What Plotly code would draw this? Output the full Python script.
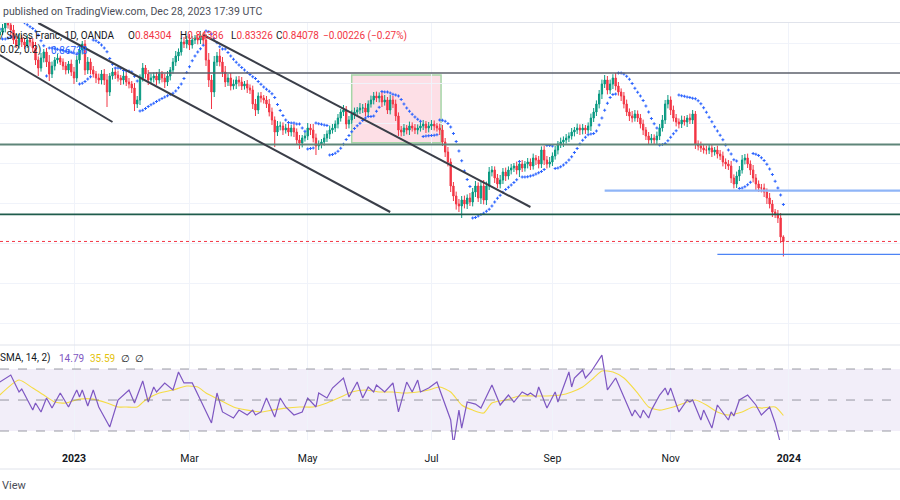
import numpy as np
import pandas as pd
import plotly.graph_objects as go
from plotly.subplots import make_subplots

# ---------------- data (USD/CHF daily) ----------------
FIRST_DATE = "2022-11-24"
LAST_DATE = "2023-12-28"
FIRST_OPEN = 0.9440

CLOSE = [
    0.9455, 0.9475,                                  # Nov 24-25 2022
    0.9505, 0.9490, 0.9465, 0.9415, 0.9390,          # Nov 28
    0.9425, 0.9405, 0.9390, 0.9415, 0.9405,          # Dec 5
    0.9375, 0.9315, 0.9275, 0.9325, 0.9355,          # Dec 12
    0.9305, 0.9245, 0.9285, 0.9315, 0.9325,          # Dec 19
    0.9305, 0.9285, 0.9265, 0.9295, 0.9255,          # Dec 26
    0.9225, 0.9315, 0.9365, 0.9395, 0.9265,          # Jan 2 2023
    0.9305, 0.9265, 0.9245, 0.9225, 0.9215,          # Jan 9
    0.9245, 0.9215, 0.9155, 0.9235, 0.9255,          # Jan 16
    0.9240, 0.9225, 0.9215, 0.9235, 0.9205,          # Jan 23
    0.9195, 0.9175, 0.9095, 0.9115, 0.9225,          # Jan 30
    0.9275, 0.9245, 0.9215, 0.9225, 0.9235,          # Feb 6
    0.9215, 0.9245, 0.9225, 0.9205, 0.9235,          # Feb 13
    0.9265, 0.9305, 0.9335, 0.9355, 0.9405,          # Feb 20
    0.9395, 0.9415, 0.9390, 0.9415, 0.9425,          # Feb 27
    0.9415, 0.9435, 0.9415, 0.9315, 0.9215,          # Mar 6
    0.9155, 0.9305, 0.9335, 0.9305, 0.9255,          # Mar 13
    0.9205, 0.9225, 0.9185, 0.9195, 0.9215,          # Mar 20
    0.9205, 0.9185, 0.9195, 0.9175, 0.9165,          # Mar 27
    0.9095, 0.9065, 0.9135, 0.9125, 0.9115,          # Apr 3
    0.9095, 0.9055, 0.9015, 0.8955, 0.8985,          # Apr 10
    0.8985, 0.8965, 0.8975, 0.8955, 0.8975,          # Apr 17
    0.8955, 0.8915, 0.8900, 0.8925, 0.8935,          # Apr 24
    0.8975, 0.8965, 0.8925, 0.8885, 0.8895,          # May 1
    0.8905, 0.8925, 0.8945, 0.8965, 0.8975,          # May 8
    0.8995, 0.9025, 0.9055, 0.9065, 0.8995,          # May 15
    0.9015, 0.9045, 0.9055, 0.9065, 0.9075,          # May 22
    0.9075, 0.9055, 0.9095, 0.9115, 0.9135,          # May 29
    0.9125, 0.9135, 0.9105, 0.9115, 0.9065,          # Jun 5
    0.9115, 0.9095, 0.9035, 0.8965, 0.8955,          # Jun 12
    0.8975, 0.8965, 0.8985, 0.8975, 0.8965,          # Jun 19
    0.8975, 0.8985, 0.8995, 0.8975, 0.8985,          # Jun 26
    0.8995, 0.8985, 0.8975, 0.8965, 0.8905,          # Jul 3
    0.8855, 0.8805, 0.8685, 0.8635, 0.8595,          # Jul 10
    0.8585, 0.8615, 0.8595, 0.8625, 0.8605,          # Jul 17
    0.8655, 0.8685, 0.8625, 0.8685, 0.8615,          # Jul 24
    0.8685, 0.8755, 0.8765, 0.8725, 0.8695,          # Jul 31
    0.8715, 0.8755, 0.8735, 0.8765, 0.8775,          # Aug 7
    0.8785, 0.8765, 0.8795, 0.8775, 0.8795,          # Aug 14
    0.8805, 0.8785, 0.8825, 0.8815, 0.8795,          # Aug 21
    0.8865, 0.8815, 0.8795, 0.8805, 0.8835,          # Aug 28
    0.8865, 0.8895, 0.8905, 0.8915, 0.8925,          # Sep 4
    0.8935, 0.8955, 0.8965, 0.8975, 0.8965,          # Sep 11
    0.8975, 0.8965, 0.8985, 0.9025, 0.9055,          # Sep 18
    0.9095, 0.9145, 0.9195, 0.9215, 0.9165,          # Sep 25
    0.9195, 0.9225, 0.9185, 0.9155, 0.9135,          # Oct 2
    0.9095, 0.9055, 0.9035, 0.9025, 0.9045,          # Oct 9
    0.9025, 0.8995, 0.8965, 0.8935, 0.8915,          # Oct 16
    0.8925, 0.8915, 0.8935, 0.8975, 0.9015,          # Oct 23
    0.9095, 0.9115, 0.9065, 0.9025, 0.9005,          # Oct 30
    0.8995, 0.9015, 0.9005, 0.9025, 0.9015,          # Nov 6
    0.9045, 0.8895, 0.8885, 0.8875, 0.8865,          # Nov 13
    0.8865, 0.8875, 0.8855, 0.8865, 0.8845,          # Nov 20
    0.8835, 0.8805, 0.8795, 0.8785, 0.8725,          # Nov 27
    0.8695, 0.8735, 0.8765, 0.8815, 0.8825,          # Dec 4
    0.8795, 0.8765, 0.8725, 0.8695, 0.8675,          # Dec 11
    0.8675, 0.8655, 0.8625, 0.8595, 0.8555,          # Dec 18
    0.8545, 0.8525, 0.84304, 0.84078,                # Dec 25-28
]

UPPER_WICK_PIPS = [
    15, 20,
    18, 22, 15, 25, 20,
    20, 15, 18, 25, 12,
    20, 30, 18, 25, 15,
    20, 35, 22, 15, 20,
    12, 18, 20, 15, 22,
    25, 20, 30, 15, 20,
    25, 18, 20, 15, 22,
    20, 25, 30, 15, 20,
    18, 22, 15, 25, 20,
    20, 15, 25, 20, 18,
    25, 15, 20, 22, 18,
    20, 25, 15, 20, 25,
    15, 20, 25, 18, 20,
    25, 20, 30, 20, 15,
    20, 25, 18, 30, 35,
    25, 30, 20, 35, 25,
    30, 20, 25, 22, 18,
    20, 25, 15, 20, 18,
    22, 25, 18, 20, 15,
    20, 25, 22, 18, 25,
    22, 18, 20, 25, 15,
    20, 18, 25, 15, 20,
    25, 20, 30, 22, 18,
    15, 20, 18, 22, 20,
    18, 20, 15, 25, 20,
    20, 18, 22, 15, 25,
    20, 25, 18, 22, 20,
    22, 18, 20, 25, 15,
    25, 20, 22, 18, 20,
    20, 15, 22, 18, 20,
    18, 22, 20, 15, 20,
    20, 18, 15, 22, 25,
    20, 25, 18, 20, 22,
    25, 20, 22, 18, 25,
    20, 25, 18, 22, 30,
    22, 25, 20, 18, 20,
    25, 20, 22, 18, 20,
    15, 22, 18, 20, 15,
    20, 18, 22, 15, 20,
    18, 22, 20, 25, 18,
    20, 15, 22, 18, 20,
    18, 20, 15, 22, 18,
    20, 15, 18, 22, 20,
    18, 20, 22, 25, 20,
    22, 19, 25, 20, 18,
    20, 22, 18, 25, 20,
    18, 20, 22, 15, 20,
    20, 18, 22, 20, 25,
    20, 25, 18, 22, 20,
    18, 22, 20, 15, 22,
    20, 15, 18, 22, 20,
    22, 18, 20, 15, 22,
    20, 22, 18, 20, 25,
    18, 22, 20, 25, 20,
    22, 18, 25, 20, 18,
    20, 22, 18, 25, 20,
    15, 20, 25, 8,
]

LOWER_WICK_PIPS = [
    20, 15,
    22, 18, 25, 20, 15,
    18, 25, 20, 15, 22,
    20, 25, 40, 18, 22,
    25, 35, 20, 22, 18,
    15, 20, 22, 18, 20,
    30, 20, 18, 22, 25,
    20, 22, 18, 25, 20,
    22, 25, 75, 20, 18,
    20, 18, 25, 22, 20,
    22, 25, 35, 20, 25,
    18, 22, 25, 20, 22,
    25, 18, 22, 30, 20,
    22, 18, 20, 25, 18,
    20, 22, 25, 18, 20,
    22, 20, 25, 30, 35,
    85, 25, 20, 22, 25,
    25, 20, 22, 18, 25,
    22, 20, 18, 25, 20,
    25, 30, 20, 22, 18,
    20, 22, 25, 75, 20,
    22, 25, 18, 20, 22,
    25, 20, 30, 22, 18,
    20, 25, 22, 45, 20,
    22, 18, 20, 25, 18,
    20, 22, 18, 20, 25,
    22, 20, 25, 18, 20,
    25, 22, 20, 18, 22,
    20, 22, 25, 18, 20,
    22, 20, 25, 30, 22,
    20, 22, 25, 18, 20,
    22, 18, 20, 25, 22,
    20, 22, 18, 25, 20,
    25, 22, 30, 25, 28,
    30, 60, 22, 25, 20,
    22, 25, 20, 30, 22,
    25, 20, 22, 25, 20,
    22, 20, 25, 18, 22,
    20, 22, 35, 20, 18,
    22, 20, 18, 25, 22,
    20, 25, 22, 18, 20,
    18, 22, 20, 25, 18,
    20, 18, 22, 20, 25,
    22, 20, 18, 25, 20,
    20, 22, 25, 20, 22,
    20, 25, 22, 18, 25,
    22, 20, 25, 22, 18,
    20, 22, 25, 20, 22,
    18, 25, 22, 20, 18,
    20, 22, 25, 18, 22,
    22, 20, 18, 25, 20,
    20, 25, 22, 20, 18,
    22, 20, 25, 18, 22,
    20, 22, 25, 20, 25,
    22, 20, 25, 18, 22,
    20, 25, 22, 30, 20,
    22, 25, 30, 22, 25,
    20, 25, 30, 75,
]

# RSI(14) turning points: bar number (0 = first bar) and value
RSI_BAR = [0, 4, 7, 8, 12, 13, 15, 17, 19, 22, 25, 28, 29, 30, 32, 34, 36, 40, 43, 47,
           49, 52, 54, 56, 57, 60, 63, 65, 67, 70, 73, 77, 79, 81, 85, 87, 90, 92, 93, 95,
           97, 100, 102, 104, 107, 110, 112, 115, 116, 119, 121, 125, 127, 130, 132, 134,
           136, 137, 140, 143, 145, 148, 150, 152, 153, 156, 159, 164, 165, 167, 168, 170,
           173, 175, 179, 182, 185, 187, 190, 192, 193, 195, 196, 199, 202, 203, 207, 208,
           209, 212, 213, 215, 219, 221, 224, 227, 230, 231, 233, 234, 236, 237, 240, 242,
           243, 244, 247, 250, 251, 252, 255, 256, 259, 261, 265, 266, 267, 269, 272, 275,
           277, 280, 282, 285]
RSI_VALUE = [61.6, 66.1, 55.2, 57.1, 43.5, 48.1, 42.3, 51.3, 44.8, 54.5, 45.5, 56.5, 51.9,
             56.5, 46.1, 56.5, 45.5, 32.6, 50.0, 56.5, 48.1, 62.3, 48.7, 58.4, 55.2, 61.0,
             56.5, 68.1, 61.0, 61.0, 50.0, 35.2, 54.5, 42.3, 38.4, 43.5, 40.3, 43.5, 40.3,
             42.3, 51.3, 39.0, 51.3, 45.5, 40.3, 42.3, 51.3, 45.5, 54.5, 51.3, 57.7, 64.2,
             51.9, 61.6, 51.3, 58.4, 55.2, 59.7, 55.2, 61.0, 42.3, 61.6, 55.2, 62.9, 55.2,
             57.7, 61.6, 37.1, 21.0, 43.5, 31.9, 48.7, 47.4, 44.8, 59.7, 46.8, 53.2, 48.7,
             55.2, 53.2, 54.5, 51.9, 58.4, 44.8, 55.2, 48.7, 68.1, 58.4, 64.2, 69.4, 64.2,
             68.1, 79.0, 56.5, 64.2, 51.9, 39.7, 43.5, 38.4, 43.5, 38.4, 43.5, 53.2, 57.7,
             53.2, 57.7, 42.3, 50.0, 48.7, 50.0, 37.1, 43.5, 31.9, 46.8, 37.1, 42.3, 39.7,
             50.0, 53.2, 46.8, 40.3, 45.5, 35.2, 14.79]
# RSI-based moving average (SMA 14)
RSI_MA_BAR = [0, 7, 12, 16, 20, 24, 29, 34, 39, 43, 46, 50, 53, 58, 63, 68, 72, 75, 80, 85,
              90, 95, 99, 104, 109, 114, 119, 124, 128, 133, 138, 143, 147, 152, 156, 160,
              164, 168, 172, 176, 179, 184, 189, 194, 199, 204, 208, 212, 216, 219, 223,
              227, 232, 236, 240, 245, 250, 253, 257, 261, 265, 270, 274, 277, 282, 285]
RSI_MA_VALUE = [53.2, 62.9, 57.7, 53.2, 48.7, 48.1, 50.6, 50.6, 48.1, 45.5, 45.5, 45.5, 50.0,
                54.5, 56.5, 59.0, 58.4, 54.5, 50.0, 45.5, 43.5, 42.3, 43.5, 44.8, 45.5, 45.5,
                48.1, 51.9, 55.2, 56.5, 55.2, 55.2, 54.5, 55.2, 56.5, 58.4, 55.2, 46.8, 43.5,
                41.6, 48.1, 50.0, 52.6, 52.6, 52.6, 53.2, 55.2, 58.4, 64.2, 68.7, 68.1, 64.2,
                54.5, 45.5, 43.5, 45.5, 48.7, 50.0, 46.8, 42.3, 40.3, 42.3, 45.5, 44.8, 45.5,
                40.0]

PSAR_START, PSAR_STEP, PSAR_MAX = 0.02, 0.02, 0.2

TICK_DATES = ["2023-01-02", "2023-03-01", "2023-05-01", "2023-07-03",
              "2023-09-01", "2023-11-01", "2024-01-01"]
TICK_LABELS = ["<b>2023</b>", "Mar", "May", "Jul", "Sep", "Nov", "<b>2024</b>"]

X_RANGE = ["2022-11-24 02:00", "2024-02-26 10:00"]
PRICE_RANGE = [0.789, 0.9505]
RSI_RANGE = [24.2, 85.5]
FAR_RIGHT = "2024-04-30"

# horizontal levels: (start date, price, colour, width)
LEVELS = [
    ("2023-02-08", 0.9250, "#5d606b", 1.6),
    ("2022-11-01", 0.8892, "#5f8579", 2.0),
    ("2022-11-01", 0.8543, "#1f5c4c", 1.6),
    ("2023-09-28", 0.8662, "#8fb5f7", 2.2),
    ("2023-11-24", 0.8343, "#4d84f5", 1.3),
]
# trend channel lines: (date0, price0, date1, price1)
TRENDLINES = [
    ("2022-11-24", 0.9340, "2023-01-20", 0.9005),
    ("2022-12-14", 0.9500, "2023-06-12", 0.8555),
    ("2023-03-08", 0.9440, "2023-08-22", 0.8580),
]
ZONE = ("2023-05-23", 0.89015, "2023-07-06 12:00", 0.9240)

HEADER = "published on TradingView.com, Dec 28, 2023 17:39 UTC"
SYMBOL = "/ Swiss Franc, 1D, OANDA"
OHLC_TEXT = [("O", "0.84304"), ("H", "0.84386"), ("L", "0.83326"), ("C", "0.84078")]
CHANGE_TEXT = "\u22120.00226 (\u22120.27%)"
PSAR_LABEL, PSAR_VALUE = "0.02, 0.2)", "0.86738"
RSI_LABEL, RSI_LAST, RSI_MA_LAST = "SMA, 14, 2)", "14.79", "35.59"

# ---------------- derived series ----------------
dates = pd.bdate_range(FIRST_DATE, LAST_DATE)
n = len(CLOSE)
assert len(dates) == n == len(UPPER_WICK_PIPS) == len(LOWER_WICK_PIPS)
assert len(RSI_BAR) == len(RSI_VALUE) and len(RSI_MA_BAR) == len(RSI_MA_VALUE)
close = np.array(CLOSE)
opens = np.concatenate([[FIRST_OPEN], close[:-1]])
high = np.maximum(opens, close) + np.array(UPPER_WICK_PIPS) * 1e-4
low = np.minimum(opens, close) - np.array(LOWER_WICK_PIPS) * 1e-4


def parabolic_sar(h, l):
    sar = np.zeros(len(h))
    up = False
    af = PSAR_START
    ep = l[0]
    sar[0] = h[0]
    for i in range(1, len(h)):
        s = sar[i - 1] + af * (ep - sar[i - 1])
        if up:
            s = min(s, l[i - 1], l[max(i - 2, 0)])
            if l[i] < s:
                up, s, ep, af = False, ep, l[i], PSAR_START
            elif h[i] > ep:
                ep, af = h[i], min(af + PSAR_STEP, PSAR_MAX)
        else:
            s = max(s, h[i - 1], h[max(i - 2, 0)])
            if h[i] > s:
                up, s, ep, af = True, ep, h[i], PSAR_START
            elif l[i] < ep:
                ep, af = l[i], min(af + PSAR_STEP, PSAR_MAX)
        sar[i] = s
    return sar


sar = parabolic_sar(high, low)

# ---------------- figure ----------------
UP, DOWN = "#089981", "#f23645"
TXT = "#131722"
FONT = "Roboto, Arial, sans-serif"
W, H, TOP, BOTTOM = 900, 500, 22, 60
PANE_SPLIT = 345

fig = make_subplots(rows=2, cols=1, shared_xaxes=True, vertical_spacing=0,
                    row_heights=[PANE_SPLIT - TOP, H - BOTTOM - PANE_SPLIT])

fig.add_trace(go.Candlestick(
    x=dates, open=opens, high=high, low=low, close=close,
    increasing=dict(line=dict(color=UP, width=1), fillcolor=UP),
    decreasing=dict(line=dict(color=DOWN, width=1), fillcolor=DOWN),
    whiskerwidth=0, hoverinfo="skip"), row=1, col=1)

fig.add_trace(go.Scatter(
    x=dates, y=sar, mode="markers",
    marker=dict(symbol="cross", size=2.5, color="#2962ff", line=dict(width=0)),
    hoverinfo="skip"), row=1, col=1)

fig.add_trace(go.Scatter(x=dates[RSI_MA_BAR], y=RSI_MA_VALUE, mode="lines",
                         line=dict(color="#f5dc45", width=1.1, shape="spline", smoothing=0.6),
                         hoverinfo="skip"), row=2, col=1)
fig.add_trace(go.Scatter(x=dates[RSI_BAR], y=RSI_VALUE, mode="lines",
                         line=dict(color="#7e57c2", width=1.2), hoverinfo="skip"), row=2, col=1)

plot_h = H - TOP - BOTTOM


def py(ypx):
    return (H - BOTTOM - ypx) / plot_h


shapes = []
shapes.append(dict(type="rect", xref="paper", yref="y2", x0=0, x1=1, y0=30, y1=70,
                   fillcolor="rgba(126,87,194,0.10)", line=dict(width=0), layer="below"))
for lv in (70, 50, 30):
    shapes.append(dict(type="line", xref="paper", yref="y2", x0=0, x1=1, y0=lv, y1=lv,
                       line=dict(color="rgba(120,123,134,0.75)", width=1, dash="dash")))
shapes.append(dict(type="rect", xref="x", yref="y", x0=ZONE[0], x1=ZONE[2], y0=ZONE[1], y1=ZONE[3],
                   fillcolor="rgba(242,54,100,0.16)", line=dict(color="#a5d6a7", width=1.5),
                   layer="below"))
for d0, p, col, wdt in LEVELS:
    shapes.append(dict(type="line", xref="x", yref="y", x0=d0, x1=FAR_RIGHT, y0=p, y1=p,
                       line=dict(color=col, width=wdt)))
shapes.append(dict(type="line", xref="paper", yref="y", x0=0, x1=1, y0=CLOSE[-1], y1=CLOSE[-1],
                   line=dict(color=DOWN, width=1, dash="dot")))
for d0, p0, d1, p1 in TRENDLINES:
    shapes.append(dict(type="line", xref="x", yref="y", x0=d0, x1=d1, y0=p0, y1=p1,
                       line=dict(color="#3a3e48", width=2)))
for ypx in (22.5, PANE_SPLIT, 469):
    shapes.append(dict(type="line", xref="paper", yref="paper", x0=0, x1=1,
                       y0=py(ypx), y1=py(ypx), line=dict(color="#e0e3eb", width=1)))
fig.update_layout(shapes=shapes)

ann = []


def text(xpx, ypx, s, color=TXT, size=10):
    ann.append(dict(xref="paper", yref="paper", x=xpx / W, y=py(ypx), text=s, showarrow=False,
                    xanchor="left", yanchor="middle", xshift=-2,
                    font=dict(family=FONT, size=size, color=color)))


text(3, 12, HEADER, "#4a4d57", 10.5)
text(0, 36, SYMBOL)
xs = [128, 180, 231, 276]
for (lab, val), xp in zip(OHLC_TEXT, xs):
    text(xp, 36, lab + f"<span style='color:{DOWN}'>{val}</span>")
text(323, 36, CHANGE_TEXT, DOWN)
text(0, 50, PSAR_LABEL)
text(51, 50, PSAR_VALUE, "#2962ff")
text(0, 358, RSI_LABEL)
text(59, 358, RSI_LAST, "#7e57c2")
text(90, 358, RSI_MA_LAST, "#e3c20c")
text(121, 358, "\u2205")
text(135, 358, "\u2205")
text(2, 485, "View", "#4a4d57", 11)
fig.update_layout(annotations=ann)

grid = "#f0f3fa"
fig.update_xaxes(type="date", range=X_RANGE, rangebreaks=[dict(bounds=["sat", "mon"])],
                 showgrid=True, gridcolor=grid, gridwidth=1, tickvals=TICK_DATES,
                 ticktext=TICK_LABELS, zeroline=False, showline=False, ticks="",
                 rangeslider=dict(visible=False))
fig.update_xaxes(showticklabels=False, row=1, col=1)
fig.update_xaxes(showticklabels=True, tickfont=dict(family=FONT, size=10.5, color=TXT),
                 ticklabelstandoff=10, row=2, col=1)
fig.update_yaxes(range=PRICE_RANGE, dtick=0.02, tick0=0.80, showgrid=True, gridcolor=grid,
                 showticklabels=False, zeroline=False, row=1, col=1)
fig.update_yaxes(range=RSI_RANGE, showgrid=False, showticklabels=False, zeroline=False,
                 row=2, col=1)

fig.update_layout(width=W, height=H, margin=dict(l=0, r=0, t=TOP, b=BOTTOM),
                  paper_bgcolor="white", plot_bgcolor="white", showlegend=False,
                  font=dict(family=FONT))

fig.write_html("out.html", config={"displayModeBar": False},
               post_script="document.body.style.margin='0px';")
